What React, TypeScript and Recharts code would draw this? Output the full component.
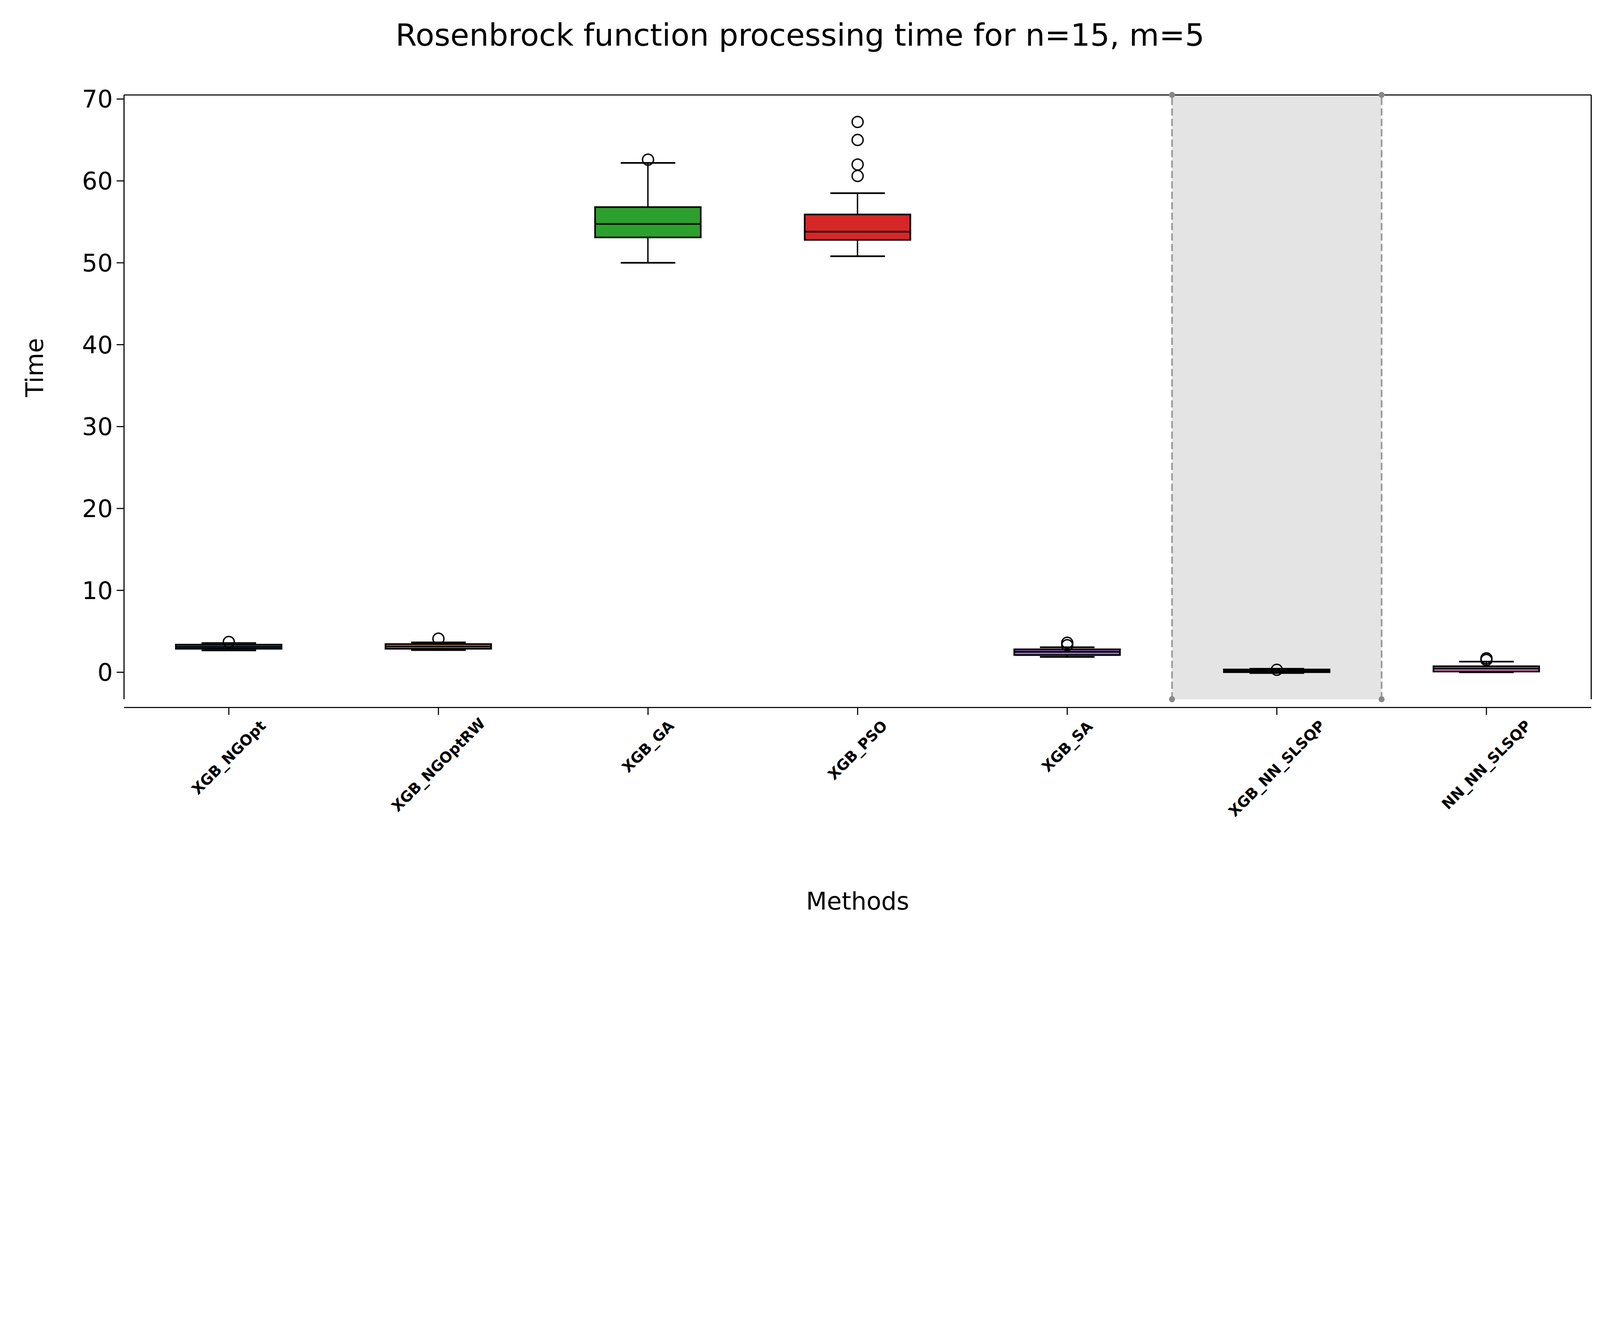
import React from "react";
import {
  Bar,
  ComposedChart,
  ReferenceArea,
  ReferenceDot,
  ReferenceLine,
  Scatter,
  XAxis,
  YAxis,
} from "recharts";

const methods = ["XGB_NGOpt", "XGB_NGOptRW", "XGB_GA", "XGB_PSO", "XGB_SA", "XGB_NN_SLSQP", "NN_NN_SLSQP"];
const colors = ["#1f77b4", "#ff7f0e", "#2ca02c", "#d62728", "#9467bd", "#8c564b", "#e377c2"];
const whiskerLow = [2.67, 2.7, 50.0, 50.8, 1.87, -0.1, 0.0];
const q1 = [2.87, 2.87, 53.1, 52.8, 2.1, 0.01, 0.09];
const median = [3.1, 3.15, 54.75, 53.8, 2.5, 0.15, 0.45];
const q3 = [3.37, 3.44, 56.8, 55.9, 2.8, 0.34, 0.73];
const whiskerHigh = [3.57, 3.65, 62.2, 58.5, 3.05, 0.43, 1.3];
const outliers = [
  { x: 0, y: 3.7 },
  { x: 1, y: 4.1 },
  { x: 2, y: 62.6 },
  { x: 3, y: 60.6 },
  { x: 3, y: 62.0 },
  { x: 3, y: 65.0 },
  { x: 3, y: 67.2 },
  { x: 4, y: 3.3 },
  { x: 4, y: 3.6 },
  { x: 5, y: 0.3 },
  { x: 6, y: 1.5 },
  { x: 6, y: 1.7 },
];
const yTicks = [0, 10, 20, 30, 40, 50, 60, 70];

const rows = methods.map((m, i) => ({
  x: i,
  name: m,
  color: colors[i],
  whisk: [whiskerLow[i], whiskerHigh[i]],
  box: [q1[i], q3[i]],
  lo: whiskerLow[i],
  hi: whiskerHigh[i],
  median: median[i],
}));

const FONT = "DejaVu Sans, sans-serif";
const BOX_W = 385;
const CAP_W = 199;
const PLOT_BOTTOM = 2549;
const Y_MIN = -3.3;
const Y_MAX = 70.5;

const HLine = (w: number) => (props: any) => {
  const { cx, cy } = props;
  if (cx == null || cy == null) return null;
  return <line x1={cx - w / 2} x2={cx + w / 2} y1={cy} y2={cy} stroke="#000" strokeWidth={6} />;
};

const Circle = (props: any) => {
  const { cx, cy } = props;
  if (cx == null || cy == null) return null;
  return <circle cx={cx} cy={cy} r={20} fill="none" stroke="#000" strokeWidth={5} />;
};

const MethodTick = (props: any) => {
  const { x, payload } = props;
  const label = methods[payload.value] ?? "";
  const fs = 54;
  const w = label.length * fs * 0.7;
  const cy = PLOT_BOTTOM + 73 + (w * 0.707 + fs * 0.707) / 2;
  return (
    <text
      x={x}
      y={cy}
      transform={`rotate(-45 ${x} ${cy})`}
      textAnchor="middle"
      dominantBaseline="central"
      fontFamily={FONT}
      fontWeight="bold"
      fontSize={fs}
      fill="#000"
    >
      {label}
    </text>
  );
};

export default function App() {
  const vw = typeof document !== "undefined" ? document.documentElement.clientWidth : 5831;
  const scale = Math.min(1, vw / 5831);
  return (
    <div
      style={{
        position: "absolute",
        left: 0,
        top: 0,
        width: 5831,
        height: 3403,
        background: "#fff",
        transform: `scale(${scale})`,
        transformOrigin: "0 0",
      }}
    >
      <div
        style={{
          position: "absolute",
          top: 62,
          width: 5831,
          textAlign: "center",
          fontFamily: FONT,
          fontSize: 112,
        }}
      >
        Rosenbrock function processing time for n=15, m=5
      </div>
      <ComposedChart
        width={5831}
        height={3403}
        data={rows}
        margin={{ top: 346, right: 32, left: 0, bottom: 0 }}
      >
        <XAxis
          xAxisId="main"
          type="number"
          dataKey="x"
          domain={[-0.5, 6.5]}
          ticks={[0, 1, 2, 3, 4, 5, 6]}
          tick={<MethodTick />}
          tickSize={27}
          height={854}
          stroke="#000"
          strokeWidth={4}
          interval={0}
          label={{ value: "Methods", position: "insideBottom", offset: 118, fontFamily: FONT, fontSize: 88, fill: "#000" }}
        />
        <XAxis xAxisId="w" type="number" dataKey="x" domain={[-0.5, 6.5]} hide />
        <XAxis xAxisId="b" type="number" dataKey="x" domain={[-0.5, 6.5]} hide />
        <YAxis
          type="number"
          domain={[Y_MIN, Y_MAX]}
          ticks={yTicks}
          allowDataOverflow
          width={452}
          tickSize={27}
          tickMargin={14}
          stroke="#000"
          strokeWidth={4}
          tick={{ fontFamily: FONT, fontSize: 88, fill: "#000" }}
          label={{ value: "Time", angle: -90, position: "insideLeft", offset: 125, fontFamily: FONT, fontSize: 88, fill: "#000" }}
        />
        <ReferenceArea xAxisId="main" x1={4.5} x2={5.5} y1={Y_MIN} y2={Y_MAX} fill="#e4e4e4" fillOpacity={1} stroke="none" />
        <ReferenceLine xAxisId="main" x={4.5} stroke="#999" strokeWidth={6} strokeDasharray="26 12" />
        <ReferenceLine xAxisId="main" x={5.5} stroke="#999" strokeWidth={6} strokeDasharray="26 12" />
        <ReferenceLine xAxisId="main" y={Y_MAX} stroke="#000" strokeWidth={4} />
        <ReferenceLine xAxisId="main" x={6.5} stroke="#000" strokeWidth={4} />
        <ReferenceDot xAxisId="main" x={4.5} y={Y_MAX} r={11} fill="#888" stroke="none" />
        <ReferenceDot xAxisId="main" x={5.5} y={Y_MAX} r={11} fill="#888" stroke="none" />
        <ReferenceDot xAxisId="main" x={4.5} y={Y_MIN} r={11} fill="#888" stroke="none" />
        <ReferenceDot xAxisId="main" x={5.5} y={Y_MIN} r={11} fill="#888" stroke="none" />
        <Bar xAxisId="w" dataKey="whisk" barSize={5} fill="#000" isAnimationActive={false} />
        <Bar
          xAxisId="b"
          dataKey="box"
          barSize={BOX_W}
          isAnimationActive={false}
          shape={(p: any) => (
            <rect
              x={p.x}
              y={p.y}
              width={p.width}
              height={Math.max(p.height, 0.1)}
              fill={p.payload.color}
              stroke="#000"
              strokeWidth={6}
            />
          )}
        />
        <Scatter xAxisId="main" dataKey="lo" shape={HLine(CAP_W)} isAnimationActive={false} />
        <Scatter xAxisId="main" dataKey="hi" shape={HLine(CAP_W)} isAnimationActive={false} />
        <Scatter xAxisId="main" dataKey="median" shape={HLine(BOX_W)} isAnimationActive={false} />
        <Scatter xAxisId="main" data={outliers} dataKey="y" shape={Circle} isAnimationActive={false} />
      </ComposedChart>
    </div>
  );
}
